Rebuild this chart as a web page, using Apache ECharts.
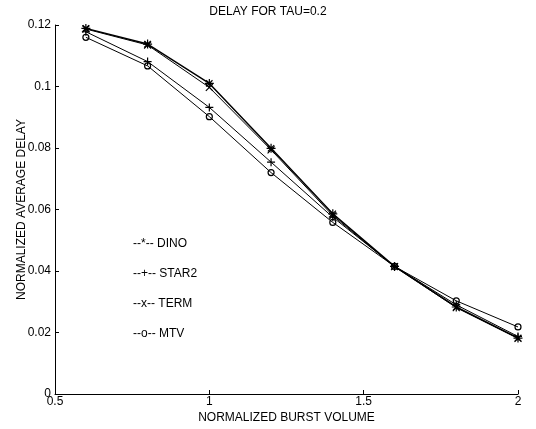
<!DOCTYPE html>
<html>
<head>
<meta charset="utf-8">
<script src="https://cdn.jsdelivr.net/npm/echarts@6/dist/echarts.min.js"></script>
<style>html,body{margin:0;padding:0;background:#fff}#c{width:536px;height:429px}</style>
</head>
<body>
<div id="c"></div>
<script>
var xValues = [0.6, 0.8, 1.0, 1.2, 1.4, 1.6, 1.8, 2.0];
var dino  = [0.1189, 0.1138, 0.1010, 0.0799, 0.0586, 0.0415, 0.0283, 0.0182];
var star2 = [0.1178, 0.1081, 0.0932, 0.0754, 0.0575, 0.0415, 0.0290, 0.0187];
var term  = [0.1187, 0.1135, 0.0997, 0.0794, 0.0580, 0.0414, 0.0281, 0.0181];
var mtv   = [0.1160, 0.1067, 0.0902, 0.0720, 0.0558, 0.0415, 0.0303, 0.0218];
var seriesNames = ['DINO', 'STAR2', 'TERM', 'MTV'];
var legendGlyphs = {DINO: '--*--', STAR2: '--+--', TERM: '--x--', MTV: '--o--'};
var titleText = 'DELAY FOR TAU=0.2';
var xName = 'NORMALIZED BURST VOLUME';
var yName = 'NORMALIZED AVERAGE DELAY';

function pairs(ys) { return xValues.map(function (x, i) { return [x, ys[i]]; }); }
var FONT = 'Liberation Sans, Arial, sans-serif';
var chart = echarts.init(document.getElementById('c'), null, {renderer: 'canvas'});
function mk(name, ys, symbol, size, bw) {
  return {
    name: name, type: 'line', data: pairs(ys), symbol: symbol, symbolSize: size,
    showAllSymbol: true, animation: false,
    lineStyle: {color: '#000', width: bw},
    itemStyle: {color: symbol === 'circle' ? 'rgba(0,0,0,0)' : '#000', borderColor: '#000', borderWidth: 1.2}
  };
}
chart.setOption({
  backgroundColor: '#fff',
  animation: false,
  title: {text: titleText, left: 'center', top: 1,
    textStyle: {fontFamily: FONT, fontSize: 12, fontWeight: 'normal', color: '#000'}},
  grid: {left: 55, right: 18, top: 25, bottom: 35, containLabel: false, outerBoundsMode: 'none'},
  legend: {
    orient: 'vertical', left: 128, top: 232, itemWidth: 0, itemHeight: 14, itemGap: 17,
    icon: 'none', selectedMode: false,
    data: seriesNames,
    formatter: function (n) { return legendGlyphs[n] + ' ' + n; },
    textStyle: {fontFamily: FONT, fontSize: 12, color: '#000', padding: [0,0,0,-5]}
  },
  xAxis: {
    type: 'value', min: 0.5, max: 2, interval: 0.5,
    name: xName, nameLocation: 'middle', nameGap: 18, nameMoveOverlap: false,
    nameTextStyle: {fontFamily: FONT, fontSize: 12, color: '#000'},
    axisLine: {show: true, lineStyle: {color: '#000', width: 1}},
    axisTick: {show: true, inside: true, length: 4, lineStyle: {color: '#000'}},
    axisLabel: {fontFamily: FONT, fontSize: 12, color: '#000', margin: 2},
    splitLine: {show: false}
  },
  yAxis: {
    type: 'value', min: 0, max: 0.12, interval: 0.02,
    name: yName, nameLocation: 'middle', nameGap: 27, nameMoveOverlap: false,
    nameTextStyle: {fontFamily: FONT, fontSize: 12, color: '#000'},
    axisLine: {show: true, lineStyle: {color: '#000', width: 1}},
    axisTick: {show: true, inside: true, length: 4, lineStyle: {color: '#000'}},
    axisLabel: {fontFamily: FONT, fontSize: 12, color: '#000', margin: 4},
    splitLine: {show: false}
  },
  series: [
    mk('DINO', dino, 'path://M5,0L5,10M0,5L10,5M1.5,1.5L8.5,8.5M8.5,1.5L1.5,8.5', 9, 1.5),
    mk('STAR2', star2, 'path://M5,0L5,10M0,5L10,5', 8, 1),
    mk('TERM', term, 'path://M0,0L10,10M10,0L0,10', 7, 1),
    mk('MTV', mtv, 'circle', 6, 1)
  ]
});
</script>
</body>
</html>
